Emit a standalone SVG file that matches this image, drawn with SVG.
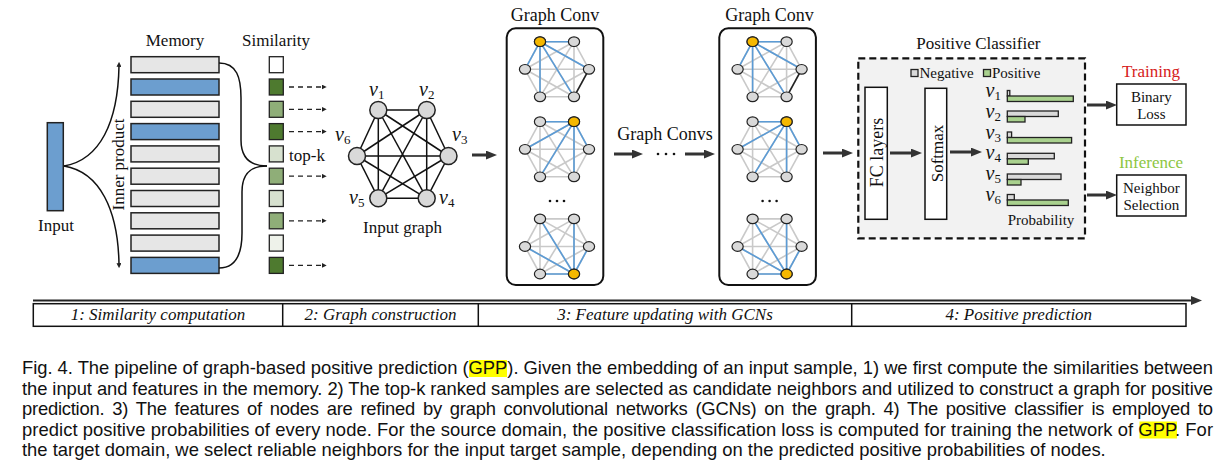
<svg xmlns="http://www.w3.org/2000/svg" xmlns:xlink="http://www.w3.org/1999/xlink" width="1223" height="476" viewBox="0 0 1223 476">
<style>
.t{font-family:"Liberation Serif","Times New Roman",serif;fill:#111}
.l17{font-size:17px}
.l15{font-size:15px}
.l18{font-size:18px}
.mid{text-anchor:middle}
.vi{font-family:"Liberation Serif","Times New Roman",serif;font-size:20px;font-style:italic;fill:#111}
.sub{font-size:13px;font-style:normal}
.it{font-style:italic}
.cap{font-family:"Liberation Sans",Arial,sans-serif;font-size:18.4px;fill:#111}
.bar{stroke:#222;stroke-width:1.5}
.blue{fill:#6c9ecf}
.grey{fill:#e6e6e6}
.sq{stroke:#222;stroke-width:1.3}
.ge{stroke:#c9c9c9;stroke-width:1.6}
.be{stroke:#5b9bd5;stroke-width:1.6}
.ke{stroke:#222;stroke-width:1.6}
.gn{fill:#d9d9d9;stroke:#222;stroke-width:1.2}
.on{fill:#f5b800;stroke:#222;stroke-width:1.2}
.ie{stroke:#111;stroke-width:1.5}
.inode{fill:#d9d9d9;stroke:#222;stroke-width:1.5}
.arr{stroke:#333;stroke-width:3;fill:none;marker-end:url(#ah)}
.dash{stroke:#222;stroke-width:1.3;stroke-dasharray:5 4;fill:none;marker-end:url(#sa)}
.thin{stroke:#111;stroke-width:1.5;fill:none}
.box{fill:#fff;stroke:#111;stroke-width:1.5}
.pb{stroke:#222;stroke-width:1.3}
.neg{fill:#d9d9d9}
.pos{fill:#a9d18e}
.dot{fill:#111}
</style>
<defs>
<marker id="ah" viewBox="0 0 10 8" refX="4" refY="4" markerWidth="11" markerHeight="9" markerUnits="userSpaceOnUse" orient="auto"><path d="M0,0 L10,4 L0,8 z" fill="#333"/></marker>
<marker id="sa" viewBox="0 0 6 6" refX="1" refY="3" markerWidth="5" markerHeight="5" markerUnits="userSpaceOnUse" orient="auto"><path d="M0,0 L6,3 L0,6 z" fill="#222"/></marker>
<g id="gEdges">
<line class="ge" x1="-17" y1="-27.6" x2="17" y2="-27.6"/>
<line class="ge" x1="17" y1="-27.6" x2="32" y2="0"/>
<line class="ge" x1="32" y1="0" x2="17" y2="27.5"/>
<line class="ge" x1="17" y1="27.5" x2="-17" y2="27.5"/>
<line class="ge" x1="-17" y1="27.5" x2="-32" y2="0"/>
<line class="ge" x1="-32" y1="0" x2="-17" y2="-27.6"/>
<line class="ge" x1="-17" y1="-27.6" x2="32" y2="0"/>
<line class="ge" x1="-17" y1="-27.6" x2="17" y2="27.5"/>
<line class="ge" x1="-17" y1="-27.6" x2="-17" y2="27.5"/>
<line class="ge" x1="17" y1="-27.6" x2="17" y2="27.5"/>
<line class="ge" x1="17" y1="-27.6" x2="-17" y2="27.5"/>
<line class="ge" x1="17" y1="-27.6" x2="-32" y2="0"/>
<line class="ge" x1="32" y1="0" x2="-32" y2="0"/>
<line class="ge" x1="32" y1="0" x2="-17" y2="27.5"/>
<line class="ge" x1="17" y1="27.5" x2="-32" y2="0"/>
</g>
<g id="gNodes">
<ellipse class="gn" cx="-17" cy="-27.6" rx="5.6" ry="4.8"/>
<ellipse class="gn" cx="17" cy="-27.6" rx="5.6" ry="4.8"/>
<ellipse class="gn" cx="32" cy="0" rx="5.6" ry="4.8"/>
<ellipse class="gn" cx="17" cy="27.5" rx="5.6" ry="4.8"/>
<ellipse class="gn" cx="-17" cy="27.5" rx="5.6" ry="4.8"/>
<ellipse class="gn" cx="-32" cy="0" rx="5.6" ry="4.8"/>
</g>
<g id="g1">
<use xlink:href="#gEdges"/>
<line class="be" x1="-17" y1="-27.6" x2="17" y2="-27.6"/>
<line class="be" x1="-17" y1="-27.6" x2="-32" y2="0"/>
<line class="be" x1="-17" y1="-27.6" x2="-17" y2="27.5"/>
<line class="be" x1="-17" y1="-27.6" x2="17" y2="27.5"/>
<line class="be" x1="-17" y1="-27.6" x2="32" y2="0"/>
<line class="ke" x1="32" y1="0" x2="17" y2="27.5"/>
<use xlink:href="#gNodes"/>
<ellipse class="on" cx="-17" cy="-27.6" rx="5.6" ry="4.8"/>
</g>
<g id="g2">
<use xlink:href="#gEdges"/>
<line class="be" x1="17" y1="-27.6" x2="-17" y2="-27.6"/>
<line class="be" x1="17" y1="-27.6" x2="32" y2="0"/>
<line class="be" x1="17" y1="-27.6" x2="-32" y2="0"/>
<line class="be" x1="17" y1="-27.6" x2="-17" y2="27.5"/>
<line class="be" x1="17" y1="-27.6" x2="17" y2="27.5"/>
<use xlink:href="#gNodes"/>
<ellipse class="on" cx="17" cy="-27.6" rx="5.6" ry="4.8"/>
</g>
<g id="g3">
<use xlink:href="#gEdges"/>
<line class="be" x1="17" y1="27.5" x2="-17" y2="27.5"/>
<line class="be" x1="17" y1="27.5" x2="32" y2="0"/>
<line class="be" x1="17" y1="27.5" x2="-32" y2="0"/>
<line class="be" x1="17" y1="27.5" x2="-17" y2="-27.6"/>
<line class="be" x1="17" y1="27.5" x2="17" y2="-27.6"/>
<use xlink:href="#gNodes"/>
<ellipse class="on" cx="17" cy="27.5" rx="5.6" ry="4.8"/>
</g>
</defs>
<rect width="1223" height="476" fill="#fff"/>

<g id="input">
<rect class="bar blue" x="47.3" y="122.7" width="16" height="88"/>
<text class="t l17 mid" x="56" y="231">Input</text>
</g>

<g id="memory">
<text class="t l17 mid" x="175" y="46">Memory</text>
<rect class="bar grey" x="131" y="56.7" width="88" height="16"/>
<rect class="bar blue" x="131" y="79" width="88" height="16"/>
<rect class="bar grey" x="131" y="101.3" width="88" height="16"/>
<rect class="bar blue" x="131" y="123.6" width="88" height="16"/>
<rect class="bar grey" x="131" y="145.9" width="88" height="16"/>
<rect class="bar grey" x="131" y="168.2" width="88" height="16"/>
<rect class="bar grey" x="131" y="190.5" width="88" height="16"/>
<rect class="bar grey" x="131" y="212.8" width="88" height="16"/>
<rect class="bar grey" x="131" y="235.1" width="88" height="16"/>
<rect class="bar blue" x="131" y="257.4" width="88" height="16"/>
<text class="t l17 mid" transform="translate(124.3,164.5) rotate(-90)">Inner product</text>
</g>

<g id="similarity">
<text class="t l17 mid" x="276" y="46">Similarity</text>
<rect class="sq" fill="#ffffff" x="269.3" y="56.7" width="14" height="16"/>
<rect class="sq" fill="#4e7a2f" x="269.3" y="79" width="14" height="16"/>
<rect class="sq" fill="#8fae78" x="269.3" y="101.3" width="14" height="16"/>
<rect class="sq" fill="#4e7a2f" x="269.3" y="123.6" width="14" height="16"/>
<rect class="sq" fill="#d7e1cf" x="269.3" y="145.9" width="14" height="16"/>
<rect class="sq" fill="#8fae78" x="269.3" y="168.2" width="14" height="16"/>
<rect class="sq" fill="#d7e1cf" x="269.3" y="190.5" width="14" height="16"/>
<rect class="sq" fill="#8fae78" x="269.3" y="212.8" width="14" height="16"/>
<rect class="sq" fill="#eef2ea" x="269.3" y="235.1" width="14" height="16"/>
<rect class="sq" fill="#4e7a2f" x="269.3" y="257.4" width="14" height="16"/>
<text class="t l17" x="289" y="160.7">top-k</text>
</g>

<g id="input-graph">
<line class="ie" x1="378.3" y1="110" x2="426.7" y2="110"/>
<line class="ie" x1="426.7" y1="110" x2="448.5" y2="156"/>
<line class="ie" x1="448.5" y1="156" x2="426.7" y2="198.3"/>
<line class="ie" x1="426.7" y1="198.3" x2="378.3" y2="198.3"/>
<line class="ie" x1="378.3" y1="198.3" x2="357" y2="156"/>
<line class="ie" x1="357" y1="156" x2="378.3" y2="110"/>
<line class="ie" x1="378.3" y1="110" x2="448.5" y2="156"/>
<line class="ie" x1="378.3" y1="110" x2="426.7" y2="198.3"/>
<line class="ie" x1="378.3" y1="110" x2="378.3" y2="198.3"/>
<line class="ie" x1="426.7" y1="110" x2="426.7" y2="198.3"/>
<line class="ie" x1="426.7" y1="110" x2="378.3" y2="198.3"/>
<line class="ie" x1="426.7" y1="110" x2="357" y2="156"/>
<line class="ie" x1="448.5" y1="156" x2="357" y2="156"/>
<line class="ie" x1="448.5" y1="156" x2="378.3" y2="198.3"/>
<line class="ie" x1="426.7" y1="198.3" x2="357" y2="156"/>
<circle class="inode" cx="378.3" cy="110" r="8.5"/>
<circle class="inode" cx="426.7" cy="110" r="8.5"/>
<circle class="inode" cx="448.5" cy="156" r="8.5"/>
<circle class="inode" cx="426.7" cy="198.3" r="8.5"/>
<circle class="inode" cx="378.3" cy="198.3" r="8.5"/>
<circle class="inode" cx="357" cy="156" r="8.5"/>
<text class="vi" x="369" y="96">v<tspan class="sub" dy="3">1</tspan></text>
<text class="vi" x="419" y="96">v<tspan class="sub" dy="3">2</tspan></text>
<text class="vi" x="452" y="141">v<tspan class="sub" dy="3">3</tspan></text>
<text class="vi" x="439" y="204">v<tspan class="sub" dy="3">4</tspan></text>
<text class="vi" x="349" y="204">v<tspan class="sub" dy="3">5</tspan></text>
<text class="vi" x="335" y="141">v<tspan class="sub" dy="3">6</tspan></text>
<text class="t l17 mid" x="402.5" y="233.3">Input graph</text>
</g>

<g id="graph-conv-1">
<text class="t l18 mid" x="555" y="21">Graph Conv</text>
<rect x="506.7" y="28.3" width="96.6" height="256.7" rx="9" fill="#fff" stroke="#111" stroke-width="2"/>
<use xlink:href="#g1" x="557" y="69.3"/>
<use xlink:href="#g2" x="557" y="149.3"/>
<circle class="dot" cx="550" cy="201" r="1.3"/><circle class="dot" cx="557" cy="201" r="1.3"/><circle class="dot" cx="564" cy="201" r="1.3"/>
<use xlink:href="#g3" x="557" y="246.5"/>
</g>

<g id="graph-convs">
<text class="t l18 mid" x="665" y="140">Graph Convs</text>
<circle class="dot" cx="658" cy="154" r="1.3"/><circle class="dot" cx="666" cy="154" r="1.3"/><circle class="dot" cx="674" cy="154" r="1.3"/>
</g>

<g id="graph-conv-2">
<text class="t l18 mid" x="769.6" y="21">Graph Conv</text>
<rect x="719.3" y="28.3" width="96.6" height="256.7" rx="9" fill="#fff" stroke="#111" stroke-width="2"/>
<use xlink:href="#g1" x="769.6" y="69.3"/>
<use xlink:href="#g2" x="769.6" y="149.3"/>
<circle class="dot" cx="762.6" cy="201" r="1.3"/><circle class="dot" cx="769.6" cy="201" r="1.3"/><circle class="dot" cx="776.6" cy="201" r="1.3"/>
<use xlink:href="#g3" x="769.6" y="246.5"/>
</g>

<g id="positive-classifier">
<text class="t l17 mid" x="978.3" y="49.3">Positive Classifier</text>
<rect x="858.3" y="58.3" width="226.7" height="180" fill="#f2f2f2" stroke="#111" stroke-width="2.2" stroke-dasharray="7 4"/>
<rect class="pb neg" x="911" y="69.5" width="7" height="7"/>
<text class="t l15" x="919.5" y="77.7">Negative</text>
<rect class="pb pos" x="983.5" y="69.5" width="7" height="7"/>
<text class="t l15" x="992" y="77.7">Positive</text>
<g id="fc-layers">
<rect class="box" x="865" y="87.3" width="22.3" height="132"/>
<text class="t l18 mid" transform="translate(883,152.5) rotate(-90)">FC layers</text>
</g>
<g id="softmax">
<rect class="box" x="925" y="88.3" width="21.7" height="131"/>
<text class="t l17 mid" transform="translate(942.5,153.5) rotate(-90)">Softmax</text>
</g>
<g id="probability">
<text class="vi" x="985.5" y="97">v<tspan class="sub" dy="3">1</tspan></text>
<text class="vi" x="985.5" y="117.8">v<tspan class="sub" dy="3">2</tspan></text>
<text class="vi" x="985.5" y="138.6">v<tspan class="sub" dy="3">3</tspan></text>
<text class="vi" x="985.5" y="159.4">v<tspan class="sub" dy="3">4</tspan></text>
<text class="vi" x="985.5" y="180.2">v<tspan class="sub" dy="3">5</tspan></text>
<text class="vi" x="985.5" y="201">v<tspan class="sub" dy="3">6</tspan></text>
<rect class="pb neg" x="1007.3" y="90.5" width="2.5" height="5.5"/>
<rect class="pb pos" x="1007.3" y="96" width="66" height="5.5"/>
<rect class="pb neg" x="1007.3" y="111" width="51" height="5.5"/>
<rect class="pb pos" x="1007.3" y="116.5" width="17.7" height="5.5"/>
<rect class="pb neg" x="1007.3" y="132" width="4.3" height="5.5"/>
<rect class="pb pos" x="1007.3" y="137.5" width="64.3" height="5.5"/>
<rect class="pb neg" x="1007.3" y="153.3" width="47" height="5.5"/>
<rect class="pb pos" x="1007.3" y="158.8" width="21" height="5.5"/>
<rect class="pb neg" x="1007.3" y="174" width="53.7" height="5.5"/>
<rect class="pb pos" x="1007.3" y="179.5" width="13.7" height="5.5"/>
<rect class="pb neg" x="1007.3" y="194.5" width="7" height="5.5"/>
<rect class="pb pos" x="1007.3" y="200" width="61" height="5.5"/>
<text class="t l15 mid" x="1041" y="225">Probability</text>
</g>
</g>

<g id="binary-loss">
<text class="t l17 mid" x="1151" y="76.7" style="fill:#d62020">Training</text>
<rect class="box" x="1116.7" y="84" width="69.3" height="41"/>
<text class="t l15 mid" x="1151.3" y="101.7">Binary</text>
<text class="t l15 mid" x="1151.3" y="118.5">Loss</text>
</g>

<g id="neighbor-selection">
<text class="t l17 mid" x="1151" y="168.3" style="fill:#8dc63f">Inference</text>
<rect class="box" x="1116.7" y="175" width="69.3" height="41"/>
<text class="t l15 mid" x="1151.3" y="193">Neighbor</text>
<text class="t l15 mid" x="1151.3" y="210">Selection</text>
</g>

<g id="connectors">
<path class="thin" d="M64,166 C100,160 118,122 119,66" marker-end="url(#sa)"/>
<path class="thin" d="M64,166 C100,172 118,210 119,264" marker-end="url(#sa)"/>
<path class="thin" d="M219,63 C237,63 241,78 241,98 L241,140 C241,158 250,166 267,166"/>
<path class="thin" d="M219,268 C237,268 242,253 242,233 L242,192 C242,174 250,166 267,166"/>
<line class="dash" x1="289" y1="87" x2="322.5" y2="87"/>
<line class="dash" x1="289" y1="109.3" x2="322.5" y2="109.3"/>
<line class="dash" x1="289" y1="131.6" x2="322.5" y2="131.6"/>
<line class="dash" x1="289" y1="176.2" x2="322.5" y2="176.2"/>
<line class="dash" x1="289" y1="220.8" x2="322.5" y2="220.8"/>
<line class="dash" x1="289" y1="265.4" x2="322.5" y2="265.4"/>
<line class="arr" x1="472" y1="155" x2="490.4" y2="155"/>
<line class="arr" x1="614" y1="154" x2="636.4" y2="154"/>
<line class="arr" x1="685" y1="154" x2="708.4" y2="154"/>
<line class="arr" x1="823" y1="153" x2="846.4" y2="153"/>
<line class="arr" x1="890" y1="153" x2="915.4" y2="153"/>
<line class="arr" x1="950" y1="152" x2="975.4" y2="152"/>
<line class="arr" x1="1087" y1="105" x2="1110.4" y2="105"/>
<line class="arr" x1="1087" y1="195" x2="1110.4" y2="195"/>
</g>

<g id="stages">
<line x1="33" y1="300.5" x2="1195.4" y2="300.5" stroke="#222" stroke-width="2" marker-end="url(#ah)"/>
<rect x="33.3" y="303.7" width="1152.7" height="22.6" fill="#fff" stroke="#111" stroke-width="1.5"/>
<line x1="282.7" y1="303.7" x2="282.7" y2="326.3" stroke="#111" stroke-width="1.5"/>
<line x1="478.3" y1="303.7" x2="478.3" y2="326.3" stroke="#111" stroke-width="1.5"/>
<line x1="851.7" y1="303.7" x2="851.7" y2="326.3" stroke="#111" stroke-width="1.5"/>
<text class="t l17 mid it" x="158" y="320">1: Similarity computation</text>
<text class="t l17 mid it" x="380.5" y="320">2: Graph construction</text>
<text class="t l17 mid it" x="665" y="320">3: Feature updating with GCNs</text>
<text class="t l17 mid it" x="1018.8" y="320">4: Positive prediction</text>
</g>

<g id="caption">
<rect x="469" y="360" width="38" height="17" fill="#ffff00"/>
<rect x="1139.5" y="421.5" width="37.5" height="17" fill="#ffff00"/>
<text class="cap" x="22" y="374" textLength="1191" lengthAdjust="spacing">Fig. 4. The pipeline of graph-based positive prediction (GPP). Given the embedding of an input sample, 1) we first compute the similarities between</text>
<text class="cap" x="22" y="394.5" textLength="1191" lengthAdjust="spacing">the input and features in the memory. 2) The top-k ranked samples are selected as candidate neighbors and utilized to construct a graph for positive</text>
<text class="cap" x="22" y="415" textLength="1191" lengthAdjust="spacing" word-spacing="3">prediction. 3) The features of nodes are refined by graph convolutional networks (GCNs) on the graph. 4) The positive classifier is employed to</text>
<text class="cap" x="22" y="435.5" textLength="1191" lengthAdjust="spacing">predict positive probabilities of every node. For the source domain, the positive classification loss is computed for training the network of GPP. For</text>
<text class="cap" x="22" y="456">the target domain, we select reliable neighbors for the input target sample, depending on the predicted positive probabilities of nodes.</text>
</g>
</svg>
